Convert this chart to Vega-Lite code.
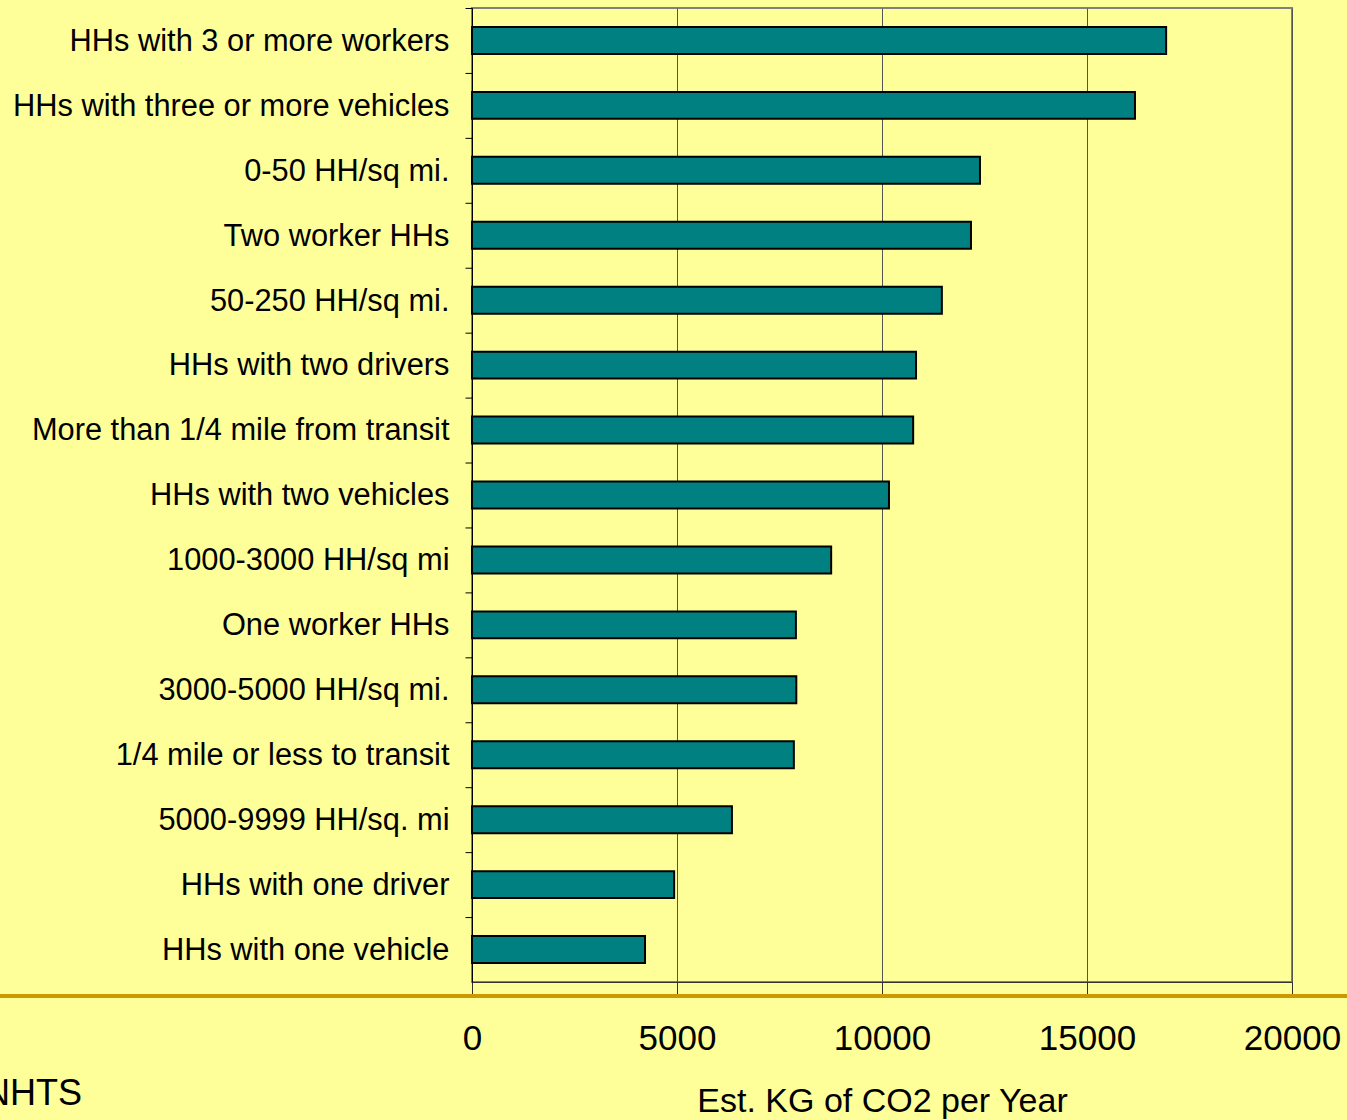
{
  "$schema": "https://vega.github.io/schema/vega-lite/v6.json",
  "width": 820,
  "height": 974,
  "autosize": {"type": "none"},
  "padding": {"left": 472, "top": 8, "right": 55, "bottom": 138},
  "background": "#FFFF99",
  "config": {
    "view": {"stroke": "#808080", "strokeWidth": 2},
    "font": "Liberation Sans"
  },
  "title": {
    "text": "NHTS",
    "orient": "bottom",
    "anchor": "start",
    "frame": "group",
    "dx": -488,
    "offset": -41,
    "fontSize": 36,
    "fontWeight": "normal",
    "color": "#000000"
  },
  "data": {
    "values": [
      {"category": "HHs with 3 or more workers", "value": 16930},
      {"category": "HHs with three or more vehicles", "value": 16170},
      {"category": "0-50 HH/sq mi.", "value": 12390},
      {"category": "Two worker HHs", "value": 12170},
      {"category": "50-250 HH/sq mi.", "value": 11460},
      {"category": "HHs with two drivers", "value": 10830},
      {"category": "More than 1/4 mile from transit", "value": 10760},
      {"category": "HHs with two vehicles", "value": 10170},
      {"category": "1000-3000 HH/sq mi", "value": 8760},
      {"category": "One worker HHs", "value": 7900},
      {"category": "3000-5000 HH/sq mi.", "value": 7910},
      {"category": "1/4 mile or less to transit", "value": 7850},
      {"category": "5000-9999 HH/sq. mi", "value": 6340},
      {"category": "HHs with one driver", "value": 4930},
      {"category": "HHs with one vehicle", "value": 4220}
    ]
  },
  "layer": [
    {
      "mark": {"type": "bar", "fill": "#008080", "stroke": "#000000", "strokeWidth": 2},
      "encoding": {
        "y": {
          "field": "category",
          "type": "nominal",
          "sort": null,
          "scale": {"paddingInner": 0.585, "paddingOuter": 0.2925},
          "axis": {
            "title": null,
            "labelFontSize": 30.8,
            "labelPadding": 16,
            "labelColor": "#000000",
            "labelLimit": 0,
            "labelOffset": 33.3,
            "tickSize": 7,
            "tickOffset": -32.47,
            "tickExtra": true,
            "tickRound": false,
            "tickColor": "#000000",
            "domainColor": "#000000",
            "grid": false
          }
        },
        "x": {
          "field": "value",
          "type": "quantitative",
          "scale": {"domain": [0, 20000], "nice": false},
          "axis": {
            "title": "Est. KG of CO2 per Year",
            "titleFontSize": 34,
            "titleFontWeight": "normal",
            "titleColor": "#000000",
            "titlePadding": 28,
            "values": [0, 5000, 10000, 15000, 20000],
            "format": "d",
            "labelFontSize": 35,
            "labelPadding": 26,
            "labelColor": "#000000",
            "labelFlush": false,
            "tickSize": 13,
            "tickColor": "#333333",
            "domainColor": "#333333",
            "grid": true,
            "gridColor": "#555555",
            "gridWidth": 1
          }
        }
      }
    },
    {
      "data": {"values": [{}]},
      "mark": {"type": "rule", "color": "#CC9900", "strokeWidth": 4, "clip": false},
      "encoding": {
        "x": {"datum": -11600},
        "x2": {"datum": 21500},
        "y": {"value": 988}
      }
    }
  ]
}
